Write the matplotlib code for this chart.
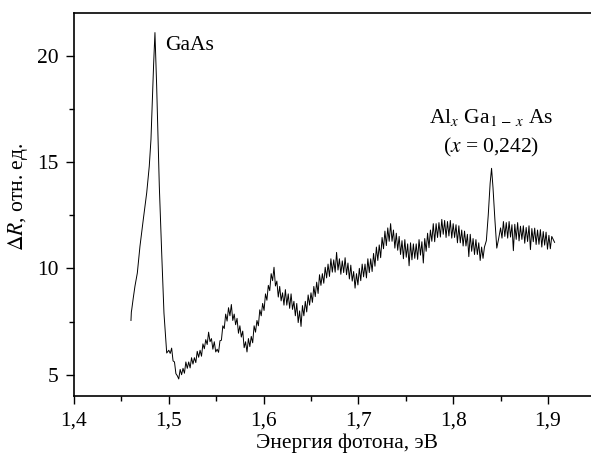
import matplotlib
matplotlib.use("Agg")
import matplotlib.pyplot as plt
from matplotlib.ticker import MultipleLocator

plt.rcParams['font.family'] = ['Liberation Serif', 'DejaVu Serif']
plt.rcParams['mathtext.fontset'] = 'stix'

# GaAs peak region (photon energy, eV / signal, arb. units)
energy_gaas = [1.4601, 1.4605, 1.4609, 1.4625, 1.4643, 1.4668, 1.4696, 1.4731, 1.4767,
               1.4794, 1.4812, 1.4826, 1.4840, 1.4854, 1.4872, 1.4900, 1.4925, 1.4949, 1.4978]
signal_gaas = [7.55, 7.95, 8.06, 8.6, 9.16, 9.78, 11.04, 12.3, 13.55,
               14.8, 16.06, 17.8, 19.6, 21.08, 18.57, 13.86, 10.73, 7.9, 6.02]

# Remaining (noisy) spectrum, first set of samples (upper excursions of the noise)
energy_rest = [
    1.500, 1.503, 1.506, 1.509, 1.512, 1.515, 1.518, 1.521, 1.524, 1.527,
    1.530, 1.533, 1.536, 1.539, 1.542, 1.545, 1.548, 1.551, 1.554, 1.557,
    1.560, 1.563, 1.566, 1.569, 1.572, 1.575, 1.578, 1.581, 1.584, 1.587,
    1.590, 1.593, 1.596, 1.599, 1.602, 1.605, 1.608, 1.611, 1.614, 1.617,
    1.620, 1.623, 1.626, 1.629, 1.632, 1.635, 1.638, 1.641, 1.644, 1.647,
    1.650, 1.653, 1.656, 1.659, 1.662, 1.665, 1.668, 1.671, 1.674, 1.677,
    1.680, 1.683, 1.686, 1.689, 1.692, 1.695, 1.698, 1.701, 1.704, 1.707,
    1.710, 1.713, 1.716, 1.719, 1.722, 1.725, 1.728, 1.731, 1.734, 1.737,
    1.740, 1.743, 1.746, 1.749, 1.752, 1.755, 1.758, 1.761, 1.764, 1.767,
    1.770, 1.773, 1.776, 1.779, 1.782, 1.785, 1.788, 1.791, 1.794, 1.797,
    1.800, 1.803, 1.806, 1.809, 1.812, 1.815, 1.818, 1.821, 1.824, 1.827,
    1.830, 1.833, 1.835, 1.837, 1.839, 1.8405, 1.842, 1.844, 1.846, 1.848,
    1.850, 1.853, 1.856, 1.859, 1.862, 1.865, 1.868, 1.871, 1.874, 1.877,
    1.880, 1.883, 1.886, 1.889, 1.892, 1.895, 1.898, 1.901, 1.904, 1.907]
signal_rest = [
    6.15, 6.25, 5.6, 4.95, 5.25, 5.3, 5.6, 5.6, 5.8, 5.8,
    6.1, 6.15, 6.45, 6.65, 7.0, 6.7, 6.55, 6.2, 6.6, 7.3,
    7.85, 8.15, 8.3, 7.85, 7.65, 7.3, 7.05, 6.55, 6.7, 6.8,
    7.3, 7.55, 8.05, 8.35, 8.8, 9.2, 9.75, 10.05, 9.4, 9.15,
    8.85, 9.0, 8.8, 8.8, 8.45, 8.35, 8.0, 8.25, 8.45, 8.75,
    8.85, 9.15, 9.35, 9.7, 9.75, 10.05, 10.2, 10.45, 10.4, 10.75,
    10.45, 10.35, 10.5, 10.25, 10.15, 9.85, 9.75, 10.0, 10.2, 10.2,
    10.45, 10.45, 10.7, 11.0, 11.1, 11.45, 11.75, 11.9, 12.1, 11.8,
    11.65, 11.5, 11.3, 11.35, 11.15, 11.2, 11.15, 11.15, 11.35, 11.25,
    11.4, 11.65, 11.8, 12.1, 12.1, 12.15, 12.3, 12.25, 12.2, 12.25,
    12.1, 12.05, 12.0, 11.8, 11.75, 11.6, 11.6, 11.4, 11.35, 11.2,
    11.0, 11.0, 11.3, 12.5, 14.0, 14.7, 13.8, 12.3, 10.95, 11.4,
    11.9, 12.2, 12.15, 12.2, 12.05, 12.07, 12.15, 11.98, 12.0, 11.92,
    12.0, 11.87, 11.89, 11.8, 11.82, 11.73, 11.7, 11.55, 11.5, 11.22]

# Remaining spectrum, interleaved second set of samples (lower excursions of the noise)
energy_rest_b = [
    1.5015, 1.5045, 1.5075, 1.5105, 1.5135, 1.5165, 1.5195, 1.5225, 1.5255, 1.5285,
    1.5315, 1.5345, 1.5375, 1.5405, 1.5435, 1.5465, 1.5495, 1.5525, 1.5555, 1.5585,
    1.5615, 1.5645, 1.5675, 1.5705, 1.5735, 1.5765, 1.5795, 1.5825, 1.5855, 1.5885,
    1.5915, 1.5945, 1.5975, 1.6005, 1.6035, 1.6065, 1.6095, 1.6125, 1.6155, 1.6185,
    1.6215, 1.6245, 1.6275, 1.6305, 1.6335, 1.6365, 1.6395, 1.6425, 1.6455, 1.6485,
    1.6515, 1.6545, 1.6575, 1.6605, 1.6635, 1.6665, 1.6695, 1.6725, 1.6755, 1.6785,
    1.6815, 1.6845, 1.6875, 1.6905, 1.6935, 1.6965, 1.6995, 1.7025, 1.7055, 1.7085,
    1.7115, 1.7145, 1.7175, 1.7205, 1.7235, 1.7265, 1.7295, 1.7325, 1.7355, 1.7385,
    1.7415, 1.7445, 1.7475, 1.7505, 1.7535, 1.7565, 1.7595, 1.7625, 1.7655, 1.7685,
    1.7715, 1.7745, 1.7775, 1.7805, 1.7835, 1.7865, 1.7895, 1.7925, 1.7955, 1.7985,
    1.8015, 1.8045, 1.8075, 1.8105, 1.8135, 1.8165, 1.8195, 1.8225, 1.8255, 1.8285,
    1.8315,
    1.8515, 1.8545, 1.8575, 1.8605, 1.8635, 1.8665, 1.8695, 1.8725, 1.8755, 1.8785,
    1.8815, 1.8845, 1.8875, 1.8905, 1.8935, 1.8965, 1.8995, 1.9025]
signal_rest_b = [
    6.0, 5.65, 5.05, 4.8, 5.0, 5.07, 5.3, 5.32, 5.5, 5.57,
    5.82, 5.87, 6.22, 6.42, 6.55, 6.2, 6.07, 6.05, 6.62, 7.17,
    7.52, 7.77, 7.55, 7.35, 6.95, 6.77, 6.27, 6.07, 6.32, 6.5,
    7.0, 7.3, 7.77, 8.02, 8.5, 8.95, 9.42, 9.17, 8.65, 8.47,
    8.27, 8.27, 8.12, 8.07, 7.77, 7.45, 7.27, 7.77, 7.95, 8.27,
    8.4, 8.67, 8.82, 9.2, 9.3, 9.55, 9.62, 9.82, 9.82, 9.92,
    9.72, 9.8, 9.7, 9.5, 9.4, 9.07, 9.22, 9.42, 9.6, 9.55,
    9.8, 9.85, 10.1, 10.37, 10.5, 10.92, 11.07, 11.27, 11.27, 10.95,
    10.85, 10.65, 10.45, 10.52, 10.12, 10.4, 10.47, 10.42, 10.62, 10.25,
    10.8, 10.97, 11.27, 11.25, 11.45, 11.47, 11.6, 11.45, 11.52, 11.42,
    11.45, 11.2, 11.2, 11.05, 11.05, 10.55, 10.8, 10.65, 10.65, 10.37,
    10.47,
    11.42, 11.5, 11.42, 11.47, 10.83, 11.36, 11.29, 11.36, 11.18, 11.26,
    10.88, 11.25, 11.12, 11.13, 11.0, 11.09, 10.9, 10.92]

x_ticks = [1.4, 1.5, 1.6, 1.7, 1.8, 1.9]
x_tick_labels = ['1,4', '1,5', '1,6', '1,7', '1,8', '1,9']
y_ticks = [5, 10, 15, 20]
y_tick_labels = ['5', '10', '15', '20']

pairs = sorted(zip(energy_gaas + energy_rest + energy_rest_b,
                   signal_gaas + signal_rest + signal_rest_b))
energy_all = [p[0] for p in pairs]
signal_all = [p[1] for p in pairs]

fig = plt.figure(figsize=(5.91, 4.58), dpi=100)
ax = fig.add_axes([74/591, 62/458, 1 - 74/591, 383/458])

ax.plot(energy_all, signal_all, color='black', lw=0.7)

ax.set_xlim(1.4, 1.9454)
ax.set_ylim(4.0, 22.0)
ax.set_xticks(x_ticks)
ax.set_xticklabels(x_tick_labels)
ax.set_yticks(y_ticks)
ax.set_yticklabels(y_tick_labels)
ax.xaxis.set_minor_locator(MultipleLocator(0.05))
ax.yaxis.set_minor_locator(MultipleLocator(2.5))
ax.tick_params(which='major', direction='out', length=6, width=1.0, labelsize=15.5, pad=5)
ax.tick_params(which='minor', direction='out', length=3.5, width=1.0)
ax.tick_params(top=False, right=False, which='both')
ax.spines['right'].set_visible(False)
for s in ['left', 'bottom', 'top']:
    ax.spines[s].set_linewidth(1.2)

ax.set_xlabel('Энергия фотона, эВ', fontsize=15.5)
ax.xaxis.set_label_coords(0.527, -0.097)
ax.xaxis.label.set_va('top')
ax.set_ylabel(r'$\Delta R$, отн. ед.', fontsize=15.5)
ax.yaxis.set_label_coords(-0.108, 0.52)
ax.yaxis.label.set_va('center')

ax.text(1.496, 20.45, 'GaAs', fontsize=15.5, ha='left', va='center')
ax.text(1.8405, 17.1, r'Al$_{x}$ Ga$_{1\,-\,x}$ As', fontsize=15.5, ha='center', va='center')
ax.text(1.8405, 15.7, r'($x$ = 0,242)', fontsize=15.5, ha='center', va='center')

fig.savefig('out.png', dpi=100)
